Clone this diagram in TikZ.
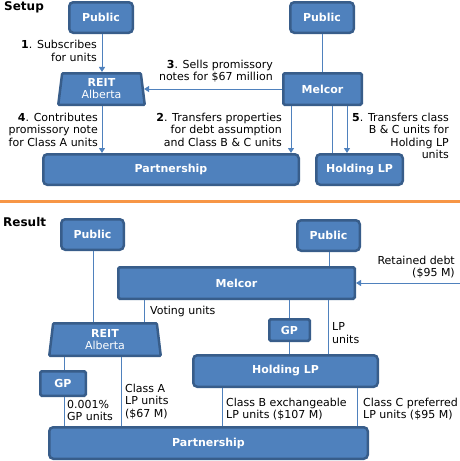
\documentclass[tikz,border=0pt]{standalone}
\usepackage{fontspec}
\setmainfont{DejaVu Sans}
\usepackage{xcolor}
\usepackage{tikz}
\usetikzlibrary{arrows.meta, shapes.geometric}

\definecolor{boxfill}{HTML}{4F81BD}
\definecolor{boxline}{HTML}{385D8A}
\definecolor{rule}{HTML}{F79646}

\begin{document}
\begin{tikzpicture}[x=1pt, y=-1pt, >={Triangle[length=5pt,width=6pt]},
    entity/.style={draw=boxline, fill=boxfill, line width=2.5pt, rounded corners=4pt,
        text=white, font=\fontsize{11}{12}\selectfont\bfseries, inner sep=0pt},
    trust/.style={entity, shape=trapezium, rounded corners=1pt, trapezium left angle=79,
        trapezium right angle=79, trapezium stretches body, align=center},
    link/.style={boxfill, line width=1pt},
    note/.style={font=\fontsize{11}{12.5}\selectfont, inner sep=0pt}]
    \useasboundingbox (0,0) rectangle (460,461);

    % Setup
    \node[anchor=west, font=\fontsize{12}{14}\selectfont\bfseries, inner sep=0pt] (setup) at (4,7) {Setup};
    \node[entity, minimum width=63.5pt, minimum height=30.5pt] (pubA) at (101,17.5) {Public};
    \node[entity, minimum width=63.5pt, minimum height=30.5pt] (pubB) at (322,17.5) {Public};
    \node[trust, minimum width=86.5pt, minimum height=31.5pt] (reitA) at (101.5,89) {REIT\\\mdseries Alberta};
    \node[entity, rounded corners=1.5pt, minimum width=78.5pt, minimum height=31.5pt] (melA) at (322.5,89) {Melcor};
    \node[entity, minimum width=255.5pt, minimum height=30.5pt] (partA) at (171,169.5) {Partnership};
    \node[entity, minimum width=86.5pt, minimum height=30.5pt] (holdA) at (359.5,169.5) {Holding LP};

    \draw[link, ->] (pubA.south -| 102,0) -- (reitA.north -| 102,0);
    \draw[link, ->] (melA.west) -- (melA.west -| reitA.east);
    \draw[link, ->] (reitA.south -| 102,0) -- (partA.north -| 102,0);
    \draw[link, ->] (melA.south -| 291,0) -- (partA.north -| 291,0);
    \draw[link] (melA.south -| 332,0) -- (holdA.north -| 332,0);
    \draw[link, ->] (melA.south -| 347,0) -- (holdA.north -| 347,0);
    \draw[link] (pubB.south) -- (melA.north -| pubB.south);

    \node[note, align=right, anchor=east] (subscribe) at (97,51) {\textbf{1}. Subscribes\\for units};
    \node[note, align=right, anchor=east] (sells) at (273,71) {\textbf{3}. Sells promissory\\notes for \$67 million};
    \node[note, align=right, anchor=east] (contrib) at (98,129.5) {\textbf{4}. Contributes\\promissory note\\for Class A units};
    \node[note, align=right, anchor=east] (transfer) at (282,129.5) {\textbf{2}. Transfers properties\\for debt assumption\\and Class B \& C units};
    \node[note, align=right, anchor=east] (classes) at (449,136) {\textbf{5}. Transfers class\\B \& C units for\\Holding LP\\units};

    % Separator
    \draw[rule, line width=3pt] (0,201.5) -- (460,201.5);

    % Result
    \node[anchor=west, font=\fontsize{12}{14}\selectfont\bfseries, inner sep=0pt] (result) at (3,222) {Result};
    \node[entity, minimum width=62.5pt, minimum height=30.5pt] (pubC) at (92.5,234.5) {Public};
    \node[entity, minimum width=62.5pt, minimum height=30.5pt] (pubD) at (328.5,235.5) {Public};
    \node[entity, rounded corners=1.5pt, minimum width=236.5pt, minimum height=31.5pt] (melB) at (236.5,283) {Melcor};
    \node[trust, minimum width=111.5pt, minimum height=32.5pt] (reitB) at (105,339.5) {REIT\\\mdseries Alberta};
    \node[entity, rounded corners=1.5pt, minimum width=45.5pt, minimum height=24.5pt] (gpA) at (63,383.5) {GP};
    \node[entity, rounded corners=1.5pt, minimum width=40.5pt, minimum height=21.5pt] (gpB) at (289.5,330) {GP};
    \node[entity, minimum width=184.5pt, minimum height=31.5pt] (holdB) at (285.5,371) {Holding LP};
    \node[entity, minimum width=318.5pt, minimum height=31.5pt] (partB) at (208.5,443) {Partnership};
    \coordinate (debt) at (460,283);

    \draw[link] (pubC.south -| 93,0) -- (reitB.north -| 93,0);
    \draw[link] (pubD.south -| 329,0) -- (melB.north -| 329,0);
    \draw[link, ->] (debt) -- (melB.east);
    \draw[link] (melB.south -| 144,0) -- (reitB.north -| 144,0);
    \draw[link] (reitB.south -| 64,0) -- (gpA.north -| 64,0);
    \draw[link] (gpA.south -| 64,0) -- (partB.north -| 64,0);
    \draw[link] (reitB.south -| 121,0) -- (partB.north -| 121,0);
    \draw[link] (melB.south -| gpB.north) -- (gpB.north);
    \draw[link] (gpB.south) -- (holdB.north -| gpB.south);
    \draw[link] (melB.south -| 328,0) -- (holdB.north -| 328,0);
    \draw[link] (holdB.south -| 222,0) -- (partB.north -| 222,0);
    \draw[link] (holdB.south -| 357,0) -- (partB.north -| 357,0);

    \node[note, align=right, anchor=east] (retained) at (455,267) {Retained debt\\(\$95 M)};
    \node[note, anchor=west] (voting) at (150,311) {Voting units};
    \node[note, align=left, anchor=west] (gpunits) at (67,410.5) {0.001\%\\GP units};
    \node[note, align=left, anchor=west] (classA) at (125,401.5) {Class A\\LP units\\(\$67 M)};
    \node[note, align=left, anchor=west] (lpunits) at (332,333) {LP\\units};
    \node[note, align=left, anchor=west] (classB) at (226,409) {Class B exchangeable\\LP units (\$107 M)};
    \node[note, align=left, anchor=west] (classC) at (363,409) {Class C preferred\\LP units (\$95 M)};
\end{tikzpicture}
\end{document}
